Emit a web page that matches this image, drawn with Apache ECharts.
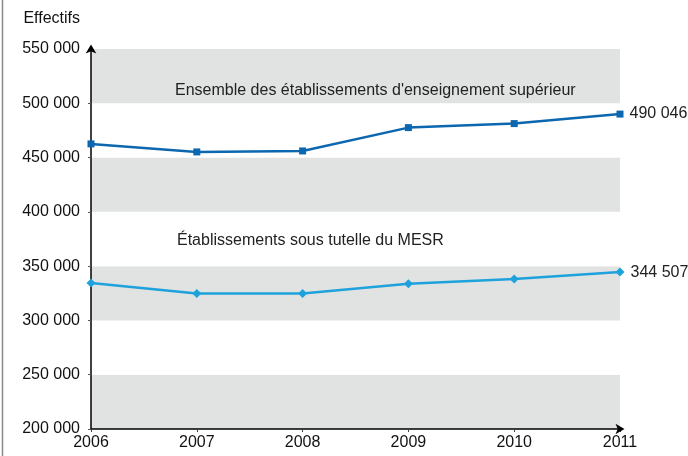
<!DOCTYPE html>
<html>
<head>
<meta charset="utf-8">
<script src="https://cdn.jsdelivr.net/npm/echarts@6/dist/echarts.min.js"></script>
<style>
  html, body { margin: 0; padding: 0; background: #fff; }
  #chart { width: 688px; height: 456px; }
</style>
</head>
<body>
<div id="chart"></div>
<script>
// Effectifs étudiants, 2006-2011
const years = ['2006', '2007', '2008', '2009', '2010', '2011'];
const ensemble = [462600, 455200, 456100, 477600, 481300, 490046];
const mesr = [334400, 324800, 324800, 333700, 338100, 344507];
const ensembleName = "Ensemble des établissements d'enseignement supérieur";
const mesrName = 'Établissements sous tutelle du MESR';
const yMin = 200000, yMax = 550000, yStep = 50000;

const FONT = "Liberation Sans, Arial, sans-serif";
const fmt = v => String(v).replace(/\B(?=(\d{3})+(?!\d))/g, ' ');

const chart = echarts.init(document.getElementById('chart'), null, { renderer: 'canvas' });

const lastLabel = (len) => ({
  show: true,
  position: 'right',
  distance: 6,
  color: '#222',
  fontFamily: FONT,
  fontSize: 16,
  formatter: p => (p.dataIndex === len - 1 ? fmt(p.value) : '')
});

chart.setOption({
  animation: false,
  grid: { left: 91, right: 68, top: 49, bottom: 27, containLabel: false },
  xAxis: {
    type: 'category',
    data: years,
    boundaryGap: false,
    axisLine: {
      lineStyle: { color: '#000', width: 1.5 },
      symbol: ['none', 'arrow'],
      symbolSize: [8, 9],
      symbolOffset: [0, 4.5]
    },
    axisTick: { show: true, length: 3, lineStyle: { color: '#444' } },
    axisLabel: { color: '#111', fontFamily: FONT, fontSize: 16, margin: 6 },
    splitLine: { show: false }
  },
  yAxis: {
    type: 'value',
    min: yMin,
    max: yMax,
    interval: yStep,
    name: 'Effectifs',
    nameLocation: 'end',
    nameGap: 22,
    nameTextStyle: { color: '#111', fontFamily: FONT, fontSize: 16, align: 'right', padding: [0, 11, 0, 0] },
    axisLine: {
      show: true,
      lineStyle: { color: '#000', width: 1.5 },
      symbol: ['none', 'arrow'],
      symbolSize: [8, 9],
      symbolOffset: [0, 4.5]
    },
    axisTick: { show: true, length: 3, lineStyle: { color: '#555' } },
    axisLabel: { color: '#111', fontFamily: FONT, fontSize: 16, margin: 11, formatter: fmt },
    splitLine: { show: false },
    splitArea: { show: true, areaStyle: { color: ['#e1e2e2', '#ffffff'] } }
  },
  series: [
    {
      name: ensembleName,
      type: 'line',
      data: ensemble,
      symbol: 'rect',
      symbolSize: 7,
      lineStyle: { color: '#0b67b0', width: 2.5 },
      itemStyle: { color: '#0b67b0' },
      label: lastLabel(ensemble.length),
      z: 3
    },
    {
      name: mesrName,
      type: 'line',
      data: mesr,
      symbol: 'diamond',
      symbolSize: 9,
      lineStyle: { color: '#1ea2dc', width: 2.5 },
      itemStyle: { color: '#1ea2dc' },
      label: lastLabel(mesr.length),
      z: 3
    }
  ],
  graphic: {
    elements: [
      {
        type: 'line',
        shape: { x1: 2.5, y1: 0, x2: 2.5, y2: 456 },
        style: { stroke: '#8a8a8a', lineWidth: 1.5 }
      },
      {
        type: 'text',
        x: 175,
        y: 83,
        z: 10,
        style: { text: ensembleName, fill: '#222', fontSize: 16, fontFamily: FONT }
      },
      {
        type: 'text',
        x: 177,
        y: 233,
        z: 10,
        style: { text: mesrName, fill: '#222', fontSize: 16, fontFamily: FONT }
      }
    ]
  }
});
</script>
</body>
</html>
